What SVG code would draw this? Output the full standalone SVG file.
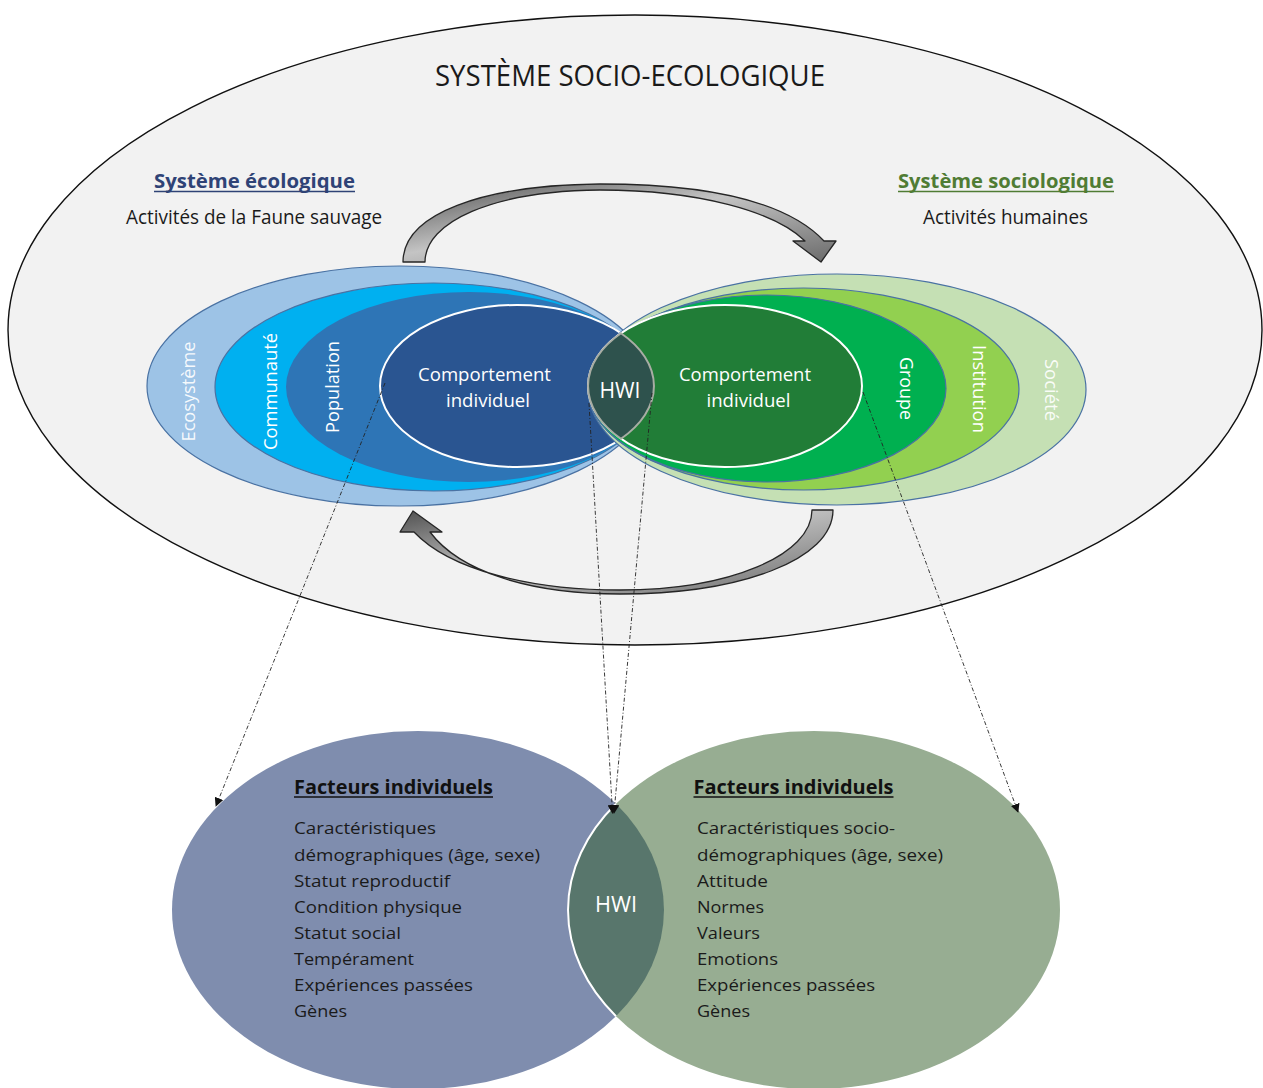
<svg xmlns="http://www.w3.org/2000/svg" width="1263" height="1088" viewBox="0 0 1263 1088">
  <defs>
    <style>
      text { font-family: "Open Sans", "Noto Sans", "Liberation Sans", sans-serif; }
      .ring { stroke: #4a72a3; stroke-width: 1.2; }
      .core { stroke: #ffffff; stroke-width: 2; }
      .wlabel { fill: #ffffff; font-size: 18.5px; text-anchor: middle; }
      .rot { fill: #ffffff; font-size: 18px; text-anchor: middle; }
      .hwi { fill: #ffffff; font-size: 22px; text-anchor: middle; }
      .head { font-size: 20px; font-weight: bold; text-anchor: middle; }
      .sub { fill: #1a1a1a; font-size: 19.5px; text-anchor: middle; }
      .ftitle { fill: #111111; font-size: 20px; font-weight: bold; }
      .item { fill: #1a1a1a; font-size: 17px; }
      .cycle { fill: url(#steel); stroke: #262626; stroke-width: 1.3; stroke-linejoin: round; }
      .link { fill: none; stroke: #222222; stroke-width: 0.9; stroke-dasharray: 4 2 1 2; marker-end: url(#tip); }
    </style>
    <linearGradient id="steel" x1="0" y1="0" x2="1" y2="1">
      <stop offset="0" stop-color="#4f4f4f"/>
      <stop offset="0.45" stop-color="#c4c4c4"/>
      <stop offset="1" stop-color="#6a6a6a"/>
    </linearGradient>
    <marker id="tip" viewBox="0 0 10 10" refX="9" refY="5" markerWidth="9" markerHeight="9" markerUnits="userSpaceOnUse" orient="auto">
      <path d="M0,0 L10,5 L0,10 Z" fill="#111111"/>
    </marker>
  </defs>

  <rect width="1263" height="1088" fill="#ffffff"/>

  <!-- outer socio-ecological system -->
  <g id="socio-ecological-system">
    <ellipse cx="635" cy="330" rx="627" ry="315" fill="#f2f2f2" stroke="#111111" stroke-width="1.4"/>
    <text x="630" y="86" fill="#1a1a1a" font-size="30" text-anchor="middle" textLength="390" lengthAdjust="spacingAndGlyphs">SYSTÈME SOCIO-ECOLOGIQUE</text>
  </g>

  <!-- ecological side headings -->
  <g id="ecological-heading">
    <text class="head" x="254.5" y="188" fill="#2f4376" textLength="201" lengthAdjust="spacingAndGlyphs">Système écologique</text>
    <line x1="154" y1="191.5" x2="355" y2="191.5" stroke="#2f4376" stroke-width="1.5"/>
    <text class="sub" x="254" y="224" textLength="256" lengthAdjust="spacingAndGlyphs">Activités de la Faune sauvage</text>
  </g>

  <!-- sociological side headings -->
  <g id="sociological-heading">
    <text class="head" x="1006" y="188" fill="#507c34" textLength="216" lengthAdjust="spacingAndGlyphs">Système sociologique</text>
    <line x1="898" y1="191.5" x2="1114" y2="191.5" stroke="#507c34" stroke-width="1.5"/>
    <text class="sub" x="1005.5" y="224" textLength="165" lengthAdjust="spacingAndGlyphs">Activités humaines</text>
  </g>

  <!-- nested ecological levels -->
  <g id="ecosystem">
    <ellipse class="ring" cx="399.5" cy="386" rx="252.5" ry="120" fill="#9dc3e6"/>
    <text class="rot" transform="translate(195,391.5) rotate(-90)" fill-opacity="0.92" textLength="100" lengthAdjust="spacingAndGlyphs">Ecosystème</text>
  </g>
  <g id="community">
    <ellipse class="ring" cx="433.5" cy="387" rx="218.5" ry="104" fill="#00b0f0"/>
    <text class="rot" transform="translate(276.5,391.5) rotate(-90)" textLength="117" lengthAdjust="spacingAndGlyphs">Communauté</text>
  </g>
  <g id="population">
    <ellipse cx="469" cy="387" rx="183" ry="95" fill="#2e75b6"/>
    <text class="rot" transform="translate(338.5,387) rotate(-90)" textLength="92" lengthAdjust="spacingAndGlyphs">Population</text>
  </g>
  <g id="wildlife-behaviour">
    <ellipse class="core" cx="517" cy="386" rx="137" ry="81" fill="#2a5591"/>
    <text class="wlabel" x="484.5" y="380.5" textLength="133" lengthAdjust="spacingAndGlyphs">Comportement</text>
    <text class="wlabel" x="488" y="406.5" textLength="84" lengthAdjust="spacingAndGlyphs">individuel</text>
  </g>

  <!-- nested sociological levels -->
  <g id="society">
    <ellipse class="ring" cx="837" cy="389.5" rx="249" ry="115.5" fill="#c5e0b4"/>
    <text class="rot" transform="translate(1044.5,390) rotate(90)" fill-opacity="0.92" textLength="62" lengthAdjust="spacingAndGlyphs">Société</text>
  </g>
  <g id="institution">
    <ellipse class="ring" cx="803.5" cy="389" rx="215.5" ry="101" fill="#92d050"/>
    <text class="rot" transform="translate(972.5,389) rotate(90)" textLength="88" lengthAdjust="spacingAndGlyphs">Institution</text>
  </g>
  <g id="group">
    <ellipse class="ring" cx="767" cy="388.5" rx="179" ry="93.5" fill="#00b050"/>
    <text class="rot" transform="translate(900,388.5) rotate(90)" textLength="63" lengthAdjust="spacingAndGlyphs">Groupe</text>
  </g>
  <g id="human-behaviour">
    <ellipse class="core" cx="725" cy="386" rx="137" ry="81" fill="#217d37"/>
    <text class="wlabel" x="745" y="380.5" textLength="132" lengthAdjust="spacingAndGlyphs">Comportement</text>
    <text class="wlabel" x="748.5" y="406.5" textLength="84" lengthAdjust="spacingAndGlyphs">individuel</text>
  </g>

  <!-- interaction zone of the two behaviours -->
  <g id="hwi-top">
    <path d="M621,333.3 A137,81 0 0,1 621,438.7 A137,81 0 0,1 621,333.3 Z" fill="#2e524d" stroke="#a8ada4" stroke-width="2"/>
    <text class="hwi" x="620" y="397.5" textLength="41" lengthAdjust="spacingAndGlyphs">HWI</text>
  </g>

  <!-- feedback arrows between the two systems -->
  <g id="cycle-arrows">
    <path class="cycle" d="M403,262 C403,214 482,185 600,184 C720,184 790,205 824,241 L836,241 L821,262 L793,241 L805,241 C775,212 700,190 600,190 C492,191 425,222 425,262 Z"/>
    <path class="cycle" d="M833,510 C833,560 740,594 620,594 C530,594 460,572 430,532 L442,532 L413,511 L400,532 L414,532 C450,570 530,590 620,590 C730,590 812,555 812,510 Z"/>
  </g>

  <!-- individual factors, wildlife -->
  <g id="wildlife-factors">
    <ellipse cx="418" cy="910" rx="246" ry="179" fill="#7f8dae"/>
    <text class="ftitle" x="294" y="793.5" textLength="199" lengthAdjust="spacingAndGlyphs">Facteurs individuels</text>
    <line x1="294" y1="797" x2="493" y2="797" stroke="#111111" stroke-width="1.5"/>
    <text class="item" x="294" y="834" textLength="142" lengthAdjust="spacingAndGlyphs">Caractéristiques</text>
    <text class="item" x="294" y="860.5" textLength="246" lengthAdjust="spacingAndGlyphs">démographiques  (âge, sexe)</text>
    <text class="item" x="294" y="886.5" textLength="156" lengthAdjust="spacingAndGlyphs">Statut reproductif</text>
    <text class="item" x="294" y="913" textLength="168" lengthAdjust="spacingAndGlyphs">Condition physique</text>
    <text class="item" x="294" y="939" textLength="107" lengthAdjust="spacingAndGlyphs">Statut social</text>
    <text class="item" x="294" y="965" textLength="120" lengthAdjust="spacingAndGlyphs">Tempérament</text>
    <text class="item" x="294" y="991" textLength="179" lengthAdjust="spacingAndGlyphs">Expériences  passées</text>
    <text class="item" x="294" y="1017" textLength="53" lengthAdjust="spacingAndGlyphs">Gènes</text>
  </g>

  <!-- individual factors, humans -->
  <g id="human-factors">
    <ellipse cx="814" cy="910" rx="246" ry="179" fill="#97ad92"/>
    <text class="ftitle" x="693.5" y="793.5" textLength="200" lengthAdjust="spacingAndGlyphs">Facteurs individuels</text>
    <line x1="693.5" y1="797" x2="893.5" y2="797" stroke="#111111" stroke-width="1.5"/>
    <text class="item" x="697" y="834" textLength="198" lengthAdjust="spacingAndGlyphs">Caractéristiques socio-</text>
    <text class="item" x="697" y="860.5" textLength="246" lengthAdjust="spacingAndGlyphs">démographiques  (âge, sexe)</text>
    <text class="item" x="697" y="886.5" textLength="71" lengthAdjust="spacingAndGlyphs">Attitude</text>
    <text class="item" x="697" y="913" textLength="67" lengthAdjust="spacingAndGlyphs">Normes</text>
    <text class="item" x="697" y="939" textLength="63" lengthAdjust="spacingAndGlyphs">Valeurs</text>
    <text class="item" x="697" y="965" textLength="81" lengthAdjust="spacingAndGlyphs">Emotions</text>
    <text class="item" x="697" y="991" textLength="178" lengthAdjust="spacingAndGlyphs">Expériences  passées</text>
    <text class="item" x="697" y="1017" textLength="53" lengthAdjust="spacingAndGlyphs">Gènes</text>
  </g>

  <!-- overlap of the two factor sets -->
  <g id="hwi-bottom">
    <path d="M616,803.8 A246,179 0 0,1 616,1016.2 A246,179 0 0,1 616,803.8 Z" fill="#58766c"/>
    <path d="M616,1016.2 A246,179 0 0,1 616,803.8" fill="none" stroke="#ffffff" stroke-width="2"/>
    <text class="hwi" x="616" y="911.5" font-size="21" fill="#eef4f2" textLength="42" lengthAdjust="spacingAndGlyphs">HWI</text>
  </g>

  <!-- dotted links from behaviours down to their factors -->
  <g id="connectors">
    <line class="link" x1="385" y1="383" x2="216" y2="806"/>
    <line class="link" x1="589" y1="403" x2="612.5" y2="813"/>
    <line class="link" x1="652" y1="393" x2="614" y2="813"/>
    <line class="link" x1="863" y1="392" x2="1018" y2="812"/>
  </g>
</svg>
